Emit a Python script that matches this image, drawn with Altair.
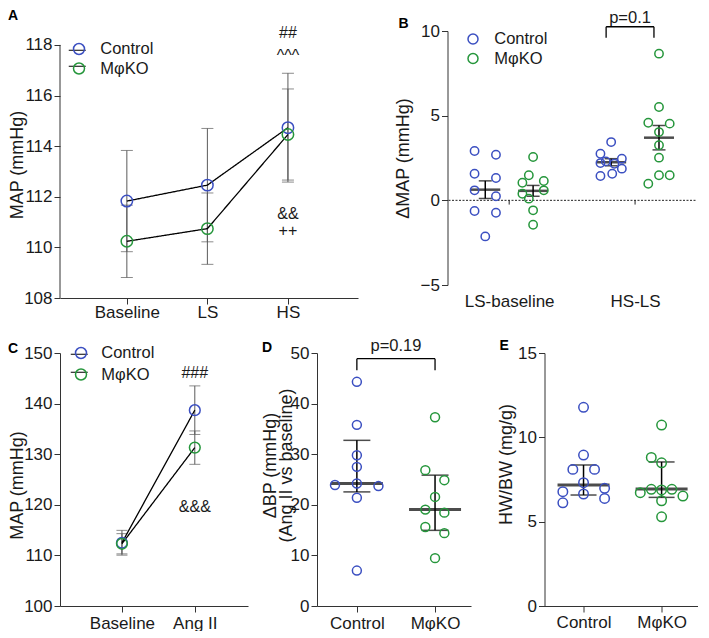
import altair as alt
import pandas as pd

FONT = "Liberation Sans"
BLUE = "#3b4fc1"
GREEN = "#25963b"
AXC = "#333333"
ERRC = "#5a5a5a"
TXT = "#1a1a1a"
GROUPS = ["Control", "MφKO"]

# ---------------- Panel A : MAP over diet phases (mean ± SEM) ----------------
A_PHASES = ["Baseline", "LS", "HS"]
A_CTRL_MEAN = [111.83, 112.46, 114.73]
A_CTRL_SEM = [2.00, 2.24, 2.15]
A_KO_MEAN = [110.24, 110.74, 114.46]
A_KO_SEM = [1.43, 1.41, 1.80]
A_NOTE_TEXT = ["##", "^^^", "&&", "++"]
A_NOTE_X = [2, 2, 2, 2]
A_NOTE_Y = [118.29, 117.35, 111.13, 110.45]

# ---------------- Panel B : ΔMAP scatter (mean ± SEM) ----------------
B_CATS = ["LS-baseline", "HS-LS"]
B_CTRL_LSB = [2.91, 2.69, 1.57, 1.32, 0.59, 0.24, -0.63, -0.73, -2.13]
B_CTRL_LSB_JIT = [-1, 1, -1, 1, -1, 1, -1, 1, 0]
B_KO_LSB = [2.56, 1.48, 1.04, 1.14, 0.39, 0.59, 0.10, -0.59, -1.44]
B_KO_LSB_JIT = [0, -0.4, -1, 1, -1, 1, -0.4, 0, 0]
B_CTRL_HSLS = [3.44, 2.75, 2.46, 2.30, 2.20, 2.16, 1.87, 1.57, 1.44]
B_CTRL_HSLS_JIT = [0, -1, 1, -0.5, -1, 0.3, 1, 0.1, -1]
B_KO_HSLS = [8.66, 5.51, 4.58, 4.53, 4.03, 3.25, 2.52, 1.48, 1.48, 0.98]
B_KO_HSLS_JIT = [0, 0, -1, 1, 0, 0, 0, 0, 1, -1]
B_CTRL_MEAN = [0.63, 2.25]
B_CTRL_SEM = [0.52, 0.21]
B_KO_MEAN = [0.56, 3.70]
B_KO_SEM = [0.32, 0.72]
B_P_TEXT = "p=0.1"
B_BRACKET_X = [0.77, 1.15]
B_BRACKET_Y = [9.6, 10.25]
B_P_Y = 10.5

# ---------------- Panel C : MAP baseline vs Ang II (mean ± SEM) ----------------
C_PHASES = ["Baseline", "Ang II"]
C_CTRL_MEAN = [112.5, 138.7]
C_CTRL_SEM = [2.45, 4.8]
C_KO_MEAN = [112.3, 131.3]
C_KO_SEM = [2.0, 3.3]
C_NOTE_TEXT = ["###", "&&&"]
C_NOTE_X = [1, 1]
C_NOTE_Y = [145.06, 118.6]

# ---------------- Panel D : ΔBP (median, IQR) ----------------
D_CTRL = [44.3, 35.8, 29.8, 27.5, 23.9, 24.2, 23.7, 21.4, 7.0]
D_CTRL_JIT = [0, 0, 0, 0, -0.28, 0, 0.276, 0, 0]
D_KO = [37.3, 26.85, 24.87, 21.56, 19.05, 18.45, 15.6, 14.4, 9.46]
D_KO_JIT = [0, -0.124, 0.119, 0, -0.124, 0.119, -0.124, 0.119, 0]
D_MED = [24.2, 19.05]
D_Q1 = [22.55, 14.95]
D_Q3 = [32.74, 25.86]
D_P_TEXT = "p=0.19"
D_BRACKET_X = [0, 1]
D_BRACKET_Y = [46.57, 48.87]
D_P_Y = 50.4

# ---------------- Panel E : HW/BW (median, IQR) ----------------
E_CTRL = [11.78, 8.95, 8.10, 8.10, 7.31, 6.78, 6.98, 6.64, 6.12, 6.38]
E_CTRL_JIT = [0, 0, -0.137, 0.141, 0, -0.265, 0.27, 0, -0.265, 0.27]
E_KO = [10.73, 8.81, 8.49, 6.72, 6.92, 6.88, 6.92, 6.52, 6.24, 5.29]
E_KO_JIT = [0, -0.132, 0, -0.273, -0.132, 0, 0.132, 0.273, 0, 0]
E_MED = [7.17, 6.94]
E_Q1 = [6.58, 6.44]
E_Q3 = [8.36, 8.54]


def expr_labels(labels):
    return "[" + ",".join("'" + s + "'" for s in labels) + "][datum.value]"


def letter(t, dx, dy):
    return alt.TitleParams(t, anchor="start", frame="group", orient="top", offset=0,
                           dx=dx, dy=dy, fontSize=14, fontWeight="bold", font=FONT,
                           baseline="alphabetic", color="black")


def color_enc(lx, ly, size, rowpad, loff):
    return alt.Color("group:N", scale=alt.Scale(domain=GROUPS, range=[BLUE, GREEN]),
                     legend=alt.Legend(title=None, orient="none", legendX=lx, legendY=ly,
                                       symbolType="circle", symbolSize=size,
                                       symbolStrokeWidth=1.5, labelFont=FONT,
                                       labelFontSize=16.5, labelColor=TXT,
                                       rowPadding=rowpad, padding=0, labelOffset=loff))


def dash_enc(lx, ly, rowpad):
    return alt.StrokeDash("group2:N", scale=alt.Scale(range=[[1, 0], [1, 0]]),
                          legend=alt.Legend(title=None, orient="none", legendX=lx, legendY=ly,
                                            symbolType="stroke", symbolSize=289,
                                            symbolStrokeColor="black", symbolStrokeWidth=1.2,
                                            labelExpr="''", labelOffset=0,
                                            rowPadding=rowpad, padding=0))


def summary_frame(ctrl_mean, ctrl_err, ko_mean, ko_err):
    rows = []
    for i in range(len(ctrl_mean)):
        rows.append(dict(group="Control", x=i, mean=ctrl_mean[i],
                         lo=ctrl_mean[i] - ctrl_err[i], hi=ctrl_mean[i] + ctrl_err[i]))
        rows.append(dict(group="MφKO", x=i, mean=ko_mean[i],
                         lo=ko_mean[i] - ko_err[i], hi=ko_mean[i] + ko_err[i]))
    df = pd.DataFrame(rows)
    df["group2"] = df["group"]
    return df


def line_panel(df, notes, phases, xdom, ydom, yticks, yline, title, letter_t,
               leg, width, height, cap, psize, titlex, titley=None, xpad=0):
    xs = alt.Scale(domain=xdom, nice=False, zero=False)
    ys = alt.Scale(domain=ydom, nice=False, zero=False)
    caps = pd.concat([df.assign(cap=df["lo"]), df.assign(cap=df["hi"])])
    yaxis_kw = dict(values=yticks, title=title, titleX=titlex, titleBaseline="middle",
                    domain=yline is None)
    if titley is not None:
        yaxis_kw["titleY"] = titley
    XA = alt.Axis(values=list(range(len(phases))), labelExpr=expr_labels(phases), title=None,
                  labelPadding=xpad)
    YA = alt.Axis(**yaxis_kw)

    def X(f):
        return alt.X(f, scale=xs, axis=XA)

    def Y(f):
        return alt.Y(f, scale=ys, axis=YA)

    err = alt.Chart(df).mark_rule(color=ERRC, strokeWidth=1).encode(
        x=X("x:Q"), y=Y("lo:Q"), y2="hi:Q")
    capl = alt.Chart(caps).mark_tick(orient="horizontal", size=cap, thickness=1, color=ERRC).encode(
        x=X("x:Q"), y=Y("cap:Q"))
    line = alt.Chart(df).mark_line(color="black", strokeWidth=1.3).encode(
        x=X("x:Q"), y=Y("mean:Q"),
        strokeDash=dash_enc(leg[0] - 3.0, leg[1], leg[2] - 0.5))
    pts = alt.Chart(df).mark_point(filled=False, size=psize, strokeWidth=1.5, opacity=1).encode(
        x=X("x:Q"), y=Y("mean:Q"),
        color=color_enc(leg[0], leg[1], 121, leg[2], leg[3]))
    txt = alt.Chart(notes).mark_text(font=FONT, fontSize=16, baseline="alphabetic",
                                     color=TXT).encode(x=X("x:Q"), y=Y("y:Q"), text="t:N")
    layers = [err, capl, line, pts, txt]
    if yline is not None:
        axl = alt.Chart(pd.DataFrame({"lo": [yline[0]], "hi": [yline[1]]})).mark_rule(
            color=AXC, strokeWidth=1).encode(x=alt.value(0), y=Y("lo:Q"), y2="hi:Q")
        layers.append(axl)
    return alt.layer(*layers).properties(width=width, height=height, title=letter_t)


# ---------- A ----------
dfA = summary_frame(A_CTRL_MEAN, A_CTRL_SEM, A_KO_MEAN, A_KO_SEM)
notesA = pd.DataFrame({"t": A_NOTE_TEXT, "x": A_NOTE_X, "y": A_NOTE_Y})
panelA = line_panel(dfA, notesA, A_PHASES, [-0.83, 2.87], [108, 118.55],
                    list(range(108, 119, 2)), (108, 118), "MAP (mmHg)",
                    letter("A", -52, 9), (10.75, 9.75, 1.5, 13), 298, 267, 12, 130, -43,
                    xpad=0)

# ---------- C ----------
dfC = summary_frame(C_CTRL_MEAN, C_CTRL_SEM, C_KO_MEAN, C_KO_SEM)
notesC = pd.DataFrame({"t": C_NOTE_TEXT, "x": C_NOTE_X, "y": C_NOTE_Y})
panelC = line_panel(dfC, notesC, C_PHASES, [-0.85, 1.73], [100, 150],
                    list(range(100, 151, 10)), None, "MAP (mmHg)",
                    letter("C", -52, 23), (12.75, -8.25, 3.5, 12), 188, 253, 11, 115, -43, 132,
                    xpad=3)


# ---------- scatter helpers ----------
def scatter_frame(groups_vals, centers, unit):
    rows = []
    for (grp, vals, jit), c in zip(groups_vals, centers):
        for v, j in zip(vals, jit):
            rows.append(dict(group=grp, x=c + j * unit, v=v))
    return pd.DataFrame(rows)


def scatter_panel(pts_df, summ_df, bracket, ptext, xdom, ydom, yticks, title, letter_t,
                  cats, width, height, psize, capw, meanw, meanth, titlex, titley,
                  legend=None, zero_line=False, xaxis_kw=None, title_lh=None):
    xs = alt.Scale(domain=xdom, nice=False, zero=False)
    ys = alt.Scale(domain=ydom, nice=False, zero=False)
    xkw = dict(values=list(range(len(cats))), labelExpr=expr_labels(cats), title=None,
               labelPadding=3)
    if xaxis_kw:
        xkw.update(xaxis_kw)
    ykw = dict(values=yticks, title=title, titleX=titlex, titleBaseline="middle")
    if titley is not None:
        ykw["titleY"] = titley
    if title_lh:
        ykw["titleLineHeight"] = title_lh
    XA = alt.Axis(**xkw)
    YA = alt.Axis(**ykw)

    def X(f):
        return alt.X(f, scale=xs, axis=XA)

    def Y(f):
        return alt.Y(f, scale=ys, axis=YA)

    caps = pd.concat([summ_df.assign(cap=summ_df["lo"]), summ_df.assign(cap=summ_df["hi"])])
    layers = []
    if zero_line:
        zl = alt.Chart(pd.DataFrame({"v": [0]})).mark_rule(
            color="#222", strokeWidth=1, strokeDash=[2, 1.5]).encode(y=Y("v:Q"))
        zt = alt.Chart(pd.DataFrame({"x": list(range(len(cats))), "a": [0] * len(cats),
                                     "b": [-0.25] * len(cats)})).mark_rule(
            color="#222", strokeWidth=1).encode(x=X("x:Q"), y=Y("a:Q"), y2="b:Q")
        layers += [zl, zt]
    err = alt.Chart(summ_df).mark_rule(color="black", strokeWidth=1.5).encode(
        x=X("x:Q"), y=Y("lo:Q"), y2="hi:Q")
    capl = alt.Chart(caps).mark_tick(orient="horizontal", size=capw, thickness=1.5,
                                     color="black").encode(x=X("x:Q"), y=Y("cap:Q"))
    meanl = alt.Chart(summ_df).mark_tick(orient="horizontal", size=meanw, thickness=meanth,
                                         color="black").encode(x=X("x:Q"), y=Y("mean:Q"))
    if legend is not None:
        col = color_enc(legend[0], legend[1], 100, legend[2], legend[3])
    else:
        col = alt.Color("group:N", scale=alt.Scale(domain=GROUPS, range=[BLUE, GREEN]),
                        legend=None)
    pts = alt.Chart(pts_df).mark_point(filled=False, size=psize, strokeWidth=1.5,
                                       opacity=1).encode(x=X("x:Q"), y=Y("v:Q"), color=col)
    layers += [err, capl, meanl, pts]
    if bracket is not None:
        (bx, by) = bracket
        segs = pd.DataFrame({"x": [bx[0], bx[0], bx[1]], "x2": [bx[1], bx[0], bx[1]],
                             "y": [by[1], by[0], by[0]], "y2": [by[1], by[1], by[1]]})
        br = alt.Chart(segs).mark_rule(color="black", strokeWidth=1.3).encode(
            x=X("x:Q"), x2="x2:Q", y=Y("y:Q"), y2="y2:Q")
        pt = alt.Chart(pd.DataFrame({"t": [ptext[0]], "x": [(bx[0] + bx[1]) / 2],
                                     "y": [ptext[1]]})).mark_text(
            font=FONT, fontSize=16.5, baseline="alphabetic", color=TXT).encode(
            x=X("x:Q"), y=Y("y:Q"), text="t:N")
        layers += [br, pt]
    return alt.layer(*layers).properties(width=width, height=height, title=letter_t)


# ---------- B ----------
B_OFF = 0.19
ptsB = scatter_frame([("Control", B_CTRL_LSB, B_CTRL_LSB_JIT), ("MφKO", B_KO_LSB, B_KO_LSB_JIT),
                      ("Control", B_CTRL_HSLS, B_CTRL_HSLS_JIT), ("MφKO", B_KO_HSLS, B_KO_HSLS_JIT)],
                     [0 - B_OFF, 0 + B_OFF, 1 - B_OFF, 1 + B_OFF], 0.085)
sumB_rows = []
for i in range(2):
    sumB_rows.append(dict(group="Control", x=i - B_OFF, mean=B_CTRL_MEAN[i],
                          lo=B_CTRL_MEAN[i] - B_CTRL_SEM[i], hi=B_CTRL_MEAN[i] + B_CTRL_SEM[i]))
    sumB_rows.append(dict(group="MφKO", x=i + B_OFF, mean=B_KO_MEAN[i],
                          lo=B_KO_MEAN[i] - B_KO_SEM[i], hi=B_KO_MEAN[i] + B_KO_SEM[i]))
sumB = pd.DataFrame(sumB_rows)
panelB = scatter_panel(ptsB, sumB, (B_BRACKET_X, B_BRACKET_Y), (B_P_TEXT, B_P_Y),
                       [-0.49, 1.48], [-5, 10], [-5, 0, 5, 10], "ΔMAP (mmHg)",
                       letter("B", -49, 32), B_CATS, 248, 254, 70, 13, 30, 2.5, -44, None,
                       legend=(17.25, -0.25, 2.5, 13), zero_line=True,
                       xaxis_kw=dict(domain=False, ticks=False, tickSize=0, labelPadding=8))

# ---------- D ----------
ptsD = scatter_frame([("Control", D_CTRL, D_CTRL_JIT), ("MφKO", D_KO, D_KO_JIT)], [0, 1], 1.0)
sumD = pd.DataFrame({"group": GROUPS, "x": [0, 1], "mean": D_MED, "lo": D_Q1, "hi": D_Q3})
panelD = scatter_panel(ptsD, sumD, (D_BRACKET_X, D_BRACKET_Y), (D_P_TEXT, D_P_Y),
                       [-0.51, 1.46], [0, 50], list(range(0, 51, 10)),
                       ["ΔBP (mmHg)", "(Ang II vs baseline)"], letter("D", -55, 28),
                       GROUPS, 154, 253, 80, 27, 52, 3, -47, 112, title_lh=16)

# ---------- E ----------
ptsE = scatter_frame([("Control", E_CTRL, E_CTRL_JIT), ("MφKO", E_KO, E_KO_JIT)], [0, 1], 1.0)
sumE = pd.DataFrame({"group": GROUPS, "x": [0, 1], "mean": E_MED, "lo": E_Q1, "hi": E_Q3})
panelE = scatter_panel(ptsE, sumE, None, None, [-0.5, 1.46], [0, 15], [0, 5, 10, 15],
                       "HW/BW (mg/g)", letter("E", -45, 20), GROUPS, 153, 253, 90, 26, 52, 3,
                       -38, 111, xaxis_kw=dict(labelPadding=2))


def indep(c):
    return c.resolve_scale(color="independent", strokeDash="independent").resolve_legend(
        color="independent", strokeDash="independent")


row1 = indep(alt.hconcat(panelA, panelB, spacing=36.5))
inner = indep(alt.hconcat(panelD, panelE, spacing=26.5))
row2 = indep(alt.hconcat(panelC, inner, spacing=12))

chart = indep(alt.vconcat(row1, row2, spacing=17)).properties(
    padding={"left": 0, "top": 0, "right": 0, "bottom": 0}
).configure_view(stroke=None).configure_axis(
    labelFont=FONT, labelFontSize=17, labelColor=TXT, titleFont=FONT, titleFontSize=18,
    titleFontWeight="normal", titleColor=TXT, domainColor=AXC, tickColor=AXC, tickSize=6,
    grid=False, domainWidth=1, tickWidth=1, labelPadding=2
).configure_legend(labelFont=FONT)

chart.save("out.html", embed_options={"renderer": "svg", "actions": False})
